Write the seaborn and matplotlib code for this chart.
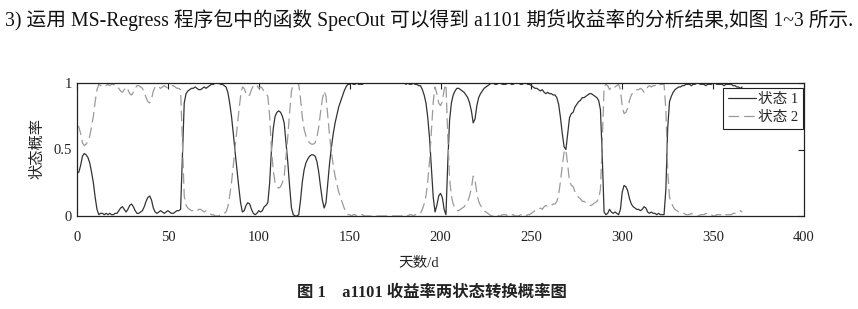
import matplotlib
matplotlib.use("Agg")
import matplotlib.pyplot as plt
from matplotlib.lines import Line2D
import seaborn as sns
import pandas as pd

# Smoothed probability of state 1 (one value per day)
state1_prob = [
    0.32, 0.33, 0.38, 0.45, 0.47, 0.46, 0.44, 0.40, 0.33, 0.25, 0.14, 0.05, 0.01,
    0.02, 0.02, 0.01, 0.02, 0.01, 0.02, 0.01, 0.01, 0.02, 0.02, 0.04, 0.06, 0.07,
    0.05, 0.03, 0.05, 0.08, 0.09, 0.07, 0.04, 0.02, 0.02, 0.03, 0.04, 0.07, 0.11,
    0.14, 0.15, 0.12, 0.06, 0.03, 0.02, 0.03, 0.04, 0.03, 0.02, 0.03, 0.04, 0.03,
    0.02, 0.02, 0.03, 0.04, 0.04, 0.05,
    0.45, 0.85, 0.92, 0.94,
    0.95, 0.96, 0.96, 0.97, 0.96, 0.95, 0.95, 0.96, 0.97, 0.96, 0.97, 0.98, 0.99,
    0.99, 1.00, 1.00, 1.00, 0.99, 0.99, 0.98, 0.97,
    0.93, 0.85, 0.75, 0.62, 0.48, 0.35, 0.22, 0.10,
    0.03, 0.04, 0.08, 0.10, 0.09, 0.05, 0.02, 0.01, 0.02, 0.04, 0.03, 0.04, 0.07,
    0.08, 0.10,
    0.25, 0.50, 0.66, 0.75, 0.78, 0.79, 0.78, 0.75, 0.70, 0.55, 0.40, 0.22, 0.06,
    0.01, 0.00, 0.00, 0.01,
    0.12, 0.26, 0.35, 0.40, 0.43, 0.45, 0.46, 0.46, 0.45, 0.41, 0.33, 0.22, 0.12,
    0.06,
    0.10, 0.25, 0.40, 0.52, 0.62, 0.70, 0.76, 0.82, 0.86, 0.90, 0.94, 0.97, 0.99,
    0.99,
    1.00, 0.99, 0.99, 1.00, 0.99, 0.99, 0.99, 1.00, 1.00, 1.00, 1.00, 1.00, 1.00,
    1.00, 1.00, 1.00, 1.00, 1.00, 1.00, 1.00, 1.00, 1.00, 1.00, 1.00, 1.00, 1.00,
    1.00, 1.00, 1.00, 1.00, 0.99, 1.00, 0.99, 0.99, 1.00, 0.99, 0.99, 0.98,
    0.98, 0.95, 0.91, 0.85, 0.74, 0.58, 0.36, 0.14, 0.03, 0.08, 0.15, 0.17, 0.14,
    0.05, 0.01,
    0.40, 0.72, 0.85, 0.91, 0.94, 0.96, 0.96, 0.95, 0.94, 0.93, 0.91, 0.89, 0.85,
    0.79, 0.70, 0.73, 0.83, 0.89, 0.92, 0.94, 0.96, 0.97, 0.98, 0.99,
    1.00, 1.00, 0.99, 0.99, 1.00, 1.00, 0.99, 0.99, 0.99, 1.00, 1.00, 0.99, 0.99,
    1.00, 1.00, 1.00, 0.99, 0.99, 1.00, 1.00, 0.99, 0.99,
    0.98, 0.97, 0.96, 0.96, 0.95, 0.94, 0.95, 0.93, 0.92, 0.93, 0.92, 0.92, 0.91,
    0.91, 0.89,
    0.84, 0.74, 0.62, 0.52, 0.50, 0.62, 0.74, 0.77, 0.78, 0.82, 0.84, 0.86, 0.87,
    0.89, 0.89, 0.90, 0.91, 0.92, 0.92, 0.91, 0.90, 0.89, 0.87, 0.80, 0.45, 0.03,
    0.01, 0.02, 0.05, 0.03, 0.02, 0.03, 0.02, 0.01, 0.05, 0.18, 0.23, 0.22, 0.19,
    0.13, 0.09, 0.07, 0.06, 0.05, 0.05, 0.04, 0.05, 0.07, 0.06, 0.03, 0.02, 0.03,
    0.02, 0.02, 0.01, 0.02, 0.01, 0.01, 0.01,
    0.20, 0.66, 0.86, 0.90, 0.93, 0.95, 0.96, 0.97, 0.97, 0.98, 0.98, 0.99, 0.99,
    0.99, 0.98, 0.99, 0.99, 1.00, 1.00, 0.99, 0.99, 0.99, 0.98, 0.99, 0.99, 0.99,
    1.00, 1.00, 0.99, 0.99, 0.99, 0.99, 0.98, 0.99, 0.99, 0.99, 0.99, 0.98, 0.98,
    0.97, 0.97, 0.96, 0.97,
]
days = list(range(len(state1_prob)))
# the two regime probabilities sum to one
state2_prob = [round(1.0 - v, 2) for v in state1_prob]

series_names = ["状态 1", "状态 2"]
x_ticks = [0, 50, 100, 150, 200, 250, 300, 350, 400]
y_ticks = [0, 0.5, 1]
y_tick_labels = ["0", "0.5", "1"]

intro_text = "3) 运用 MS-Regress 程序包中的函数 SpecOut 可以得到 a1101 期货收益率的分析结果,如图 1~3 所示."
x_label = "天数/d"
y_label = "状态概率"
caption = "图 1    a1101 收益率两状态转换概率图"

sns.set_theme(style="white")
plt.rcParams['font.family'] = ['Liberation Serif', 'Noto Sans CJK SC', 'DejaVu Sans']
plt.rcParams['axes.unicode_minus'] = False

n = len(days)
df = pd.DataFrame({
    "day": days * 2,
    "prob": state1_prob + state2_prob,
    "state": [series_names[0]] * n + [series_names[1]] * n,
})

W, H = 858, 309
fig = plt.figure(figsize=(W / 100, H / 100), dpi=100)
fig.patch.set_facecolor("white")
L, R, T, B = 77, 804, 83, 216
ax = fig.add_axes([L / W, 1 - B / H, (R - L) / W, (B - T) / H])

palette = {series_names[0]: "#333333", series_names[1]: "#9a9a9a"}
dashes = {series_names[0]: "", series_names[1]: (8.5, 4)}
sns.lineplot(data=df, x="day", y="prob", hue="state", style="state",
             palette=palette, dashes=dashes, linewidth=0.9, ax=ax,
             legend=False)

ax.set_xlim(0, 400)
ax.set_ylim(0, 1)
ax.set_xticks(x_ticks)
ax.set_xticklabels([str(t) for t in x_ticks])
ax.set_yticks(y_ticks)
ax.set_yticklabels(y_tick_labels)
ax.tick_params(direction="in", top=True, right=True, length=4.5, width=0.8,
               colors="#222222", labelsize=10.5)
ax.tick_params(axis="x", pad=11)
ax.tick_params(axis="y", pad=3.5)
for s in ax.spines.values():
    s.set_color("#222222")
    s.set_linewidth(0.9)
ax.set_xlabel("")
ax.set_ylabel("")

handles = [Line2D([], [], color=palette[series_names[0]], lw=0.9),
           Line2D([], [], color=palette[series_names[1]], lw=0.9, dashes=(8.5, 4))]
leg = ax.legend(handles, series_names, loc="upper right",
                bbox_to_anchor=(0.9986, 0.962), borderaxespad=0,
                frameon=True, fancybox=False, edgecolor="#222222",
                fontsize=10.5, handlelength=1.9, handletextpad=0.1,
                labelspacing=0.3, borderpad=0.35, framealpha=1)
leg.get_frame().set_linewidth(0.8)

fig.text(37 / W, 1 - 149 / H, y_label, rotation=90, ha="center", va="center",
         fontsize=11, color="#222222")
fig.text(419 / W, 1 - 263 / H, x_label, ha="center", va="center",
         fontsize=10.5, color="#222222")
fig.text(432 / W, 1 - 293 / H, caption, ha="center", va="center",
         fontsize=11.8, fontweight="bold", color="#222222")
fig.text(5 / W, 1 - 20 / H, intro_text, ha="left", va="center",
         fontsize=14.2, color="#111111")

fig.savefig("out.png", dpi=100, facecolor="white")
